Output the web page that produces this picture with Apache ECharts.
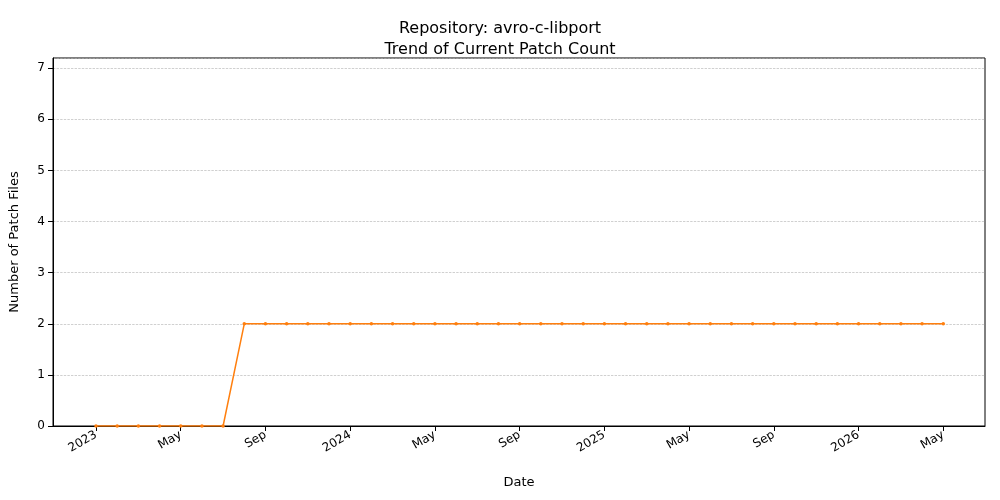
<!DOCTYPE html>
<html><head><meta charset="utf-8">
<script src="https://cdn.jsdelivr.net/npm/echarts@6/dist/echarts.min.js"></script>
<style>body{margin:0}#c{width:1000px;height:500px}</style></head>
<body><div id="c"></div>
<script>
const months = ['2023-01','2023-02','2023-03','2023-04','2023-05','2023-06','2023-07','2023-08','2023-09','2023-10','2023-11','2023-12','2024-01','2024-02','2024-03','2024-04','2024-05','2024-06','2024-07','2024-08','2024-09','2024-10','2024-11','2024-12','2025-01','2025-02','2025-03','2025-04','2025-05','2025-06','2025-07','2025-08','2025-09','2025-10','2025-11','2025-12','2026-01','2026-02','2026-03','2026-04','2026-05'];
const patchCounts = [0,0,0,0,0,0,0,2,2,2,2,2,2,2,2,2,2,2,2,2,2,2,2,2,2,2,2,2,2,2,2,2,2,2,2,2,2,2,2,2,2];
const tickLabels = {0:'2023',4:'May',8:'Sep',12:'2024',16:'May',20:'Sep',24:'2025',28:'May',32:'Sep',36:'2026',40:'May'};
const tickPos = Object.keys(tickLabels).map(Number);
const font = 'DejaVu Sans';
const chart = echarts.init(document.getElementById('c'));
chart.setOption({
  animation:false,
  textStyle:{fontFamily:font},
  title:{text:'Repository: avro-c-libport\nTrend of Current Patch Count',left:'center',top:13,
    textStyle:{fontFamily:font,fontSize:16,fontWeight:'normal',color:'#000',lineHeight:21}},
  grid:{left:53,right:15,top:58,bottom:74,show:true,borderColor:'#000',borderWidth:1},
  xAxis:{type:'value',min:-2.03,max:41.97,
    name:'Date',nameLocation:'middle',nameGap:50,nameTextStyle:{fontFamily:font,fontSize:13,color:'#000'},
    axisLine:{onZero:false,lineStyle:{color:'#000'}},
    axisTick:{show:true,customValues:tickPos,length:5,lineStyle:{color:'#000'}},
    axisLabel:{customValues:tickPos,rotate:30,fontFamily:font,fontSize:12,color:'#000',
      formatter:v=>tickLabels[Math.round(v)]||''},
    splitLine:{show:false}},
  yAxis:{type:'value',min:0,max:7.2,interval:1,
    name:'Number of Patch Files',nameLocation:'middle',nameGap:32,nameTextStyle:{fontFamily:font,fontSize:13,color:'#000'},
    axisLine:{show:true,onZero:false,lineStyle:{color:'#000'}},
    axisTick:{show:true,length:5,lineStyle:{color:'#000'}},
    axisLabel:{showMaxLabel:false,fontFamily:font,fontSize:12,color:'#000'},
    splitLine:{lineStyle:{type:'dashed',color:'#b0b0b0',width:0.6}}},
  series:[{type:'line',data:patchCounts.map((v,i)=>[i,v]),
    color:'#ff7f0e',lineStyle:{width:1.5},symbol:'circle',symbolSize:3.5}]
});
</script></body></html>
